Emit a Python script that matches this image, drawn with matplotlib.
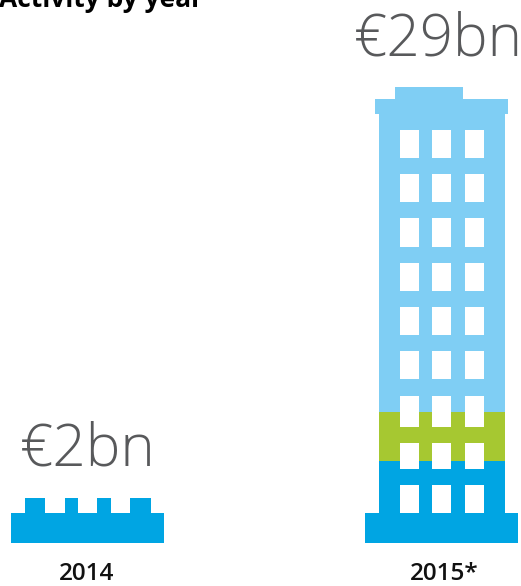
#!/usr/bin/python3
import matplotlib
matplotlib.use("Agg")
import matplotlib.pyplot as plt

# the chart is a pictogram, the axes run in picture pixels
years = ["2014", "2015*"]
totals = ["€2bn", "€29bn"]
year_centres = [87, 444.5]

# stacked tower floors of 2015, bottom to top
tower_labels = ["blue", "green", "lightblue"]
tower_heights = [82, 49, 298.5]
tower_colors = ["#00a5e3", "#a6c831", "#7fcef4"]

base_colour = "#00a5e3"
text_grey = "#58595b"

# studs on the 2014 brick
stud_left = [25, 65, 97, 130]
stud_right = [45, 78, 111, 151]

# windows of the tower
window_left = [399.5, 432, 464.7]
window_width = 19.3
window_top = [129.5, 174, 218, 263, 307, 351, 396, 443, 485]
window_bottom = [158, 202, 247, 291, 335, 379, 426.5, 469, 513]

fig = plt.figure(figsize=(5.21, 5.86), dpi=100)
ax = fig.add_axes([0, 0, 1, 1])
ax.set_xlim(0, 521)
ax.set_ylim(586, 0)
ax.axis("off")

# 2014 brick
ax.bar(87.5, 30, width=153, bottom=513, color=base_colour, linewidth=0)
for l, r in zip(stud_left, stud_right):
    ax.bar((l + r) / 2, 15, width=r - l, bottom=498, color=base_colour, linewidth=0)

# 2015 base and stacked tower
ax.bar(441.5, 30, width=153, bottom=513, color=base_colour, linewidth=0)
floor = 543
for h, c in zip(tower_heights, tower_colors):
    floor = floor - h
    ax.bar(441.75, h, width=126.5, bottom=floor, color=c, linewidth=0)

# roof
ax.bar(441.5, 14.5, width=133, bottom=99, color=tower_colors[2], linewidth=0)
ax.bar(429, 12.5, width=68.6, bottom=86.7, color=tower_colors[2], linewidth=0)

for l in window_left:
    for t, b in zip(window_top, window_bottom):
        ax.bar(l + window_width / 2, b - t, width=window_width, bottom=t,
               color="white", linewidth=0, zorder=3)

font = ["Open Sans", "DejaVu Sans"]
ax.text(87.5, 466, totals[0], ha="center", va="baseline", fontsize=42,
        color=text_grey, family=font, fontweight="light")
ax.text(438.5, 55, totals[1], ha="center", va="baseline", fontsize=42,
        color=text_grey, family=font, fontweight="light")

for x, y in zip(year_centres, years):
    ax.text(x, 580, y, ha="center", va="baseline", fontsize=17.5,
            color="#111111", family=font, fontweight="semibold")

ax.text(-1, 7, "Activity by year", ha="left", va="baseline", fontsize=19,
        color="black", family=font, fontweight="bold")

fig.savefig("out.png", dpi=100)
